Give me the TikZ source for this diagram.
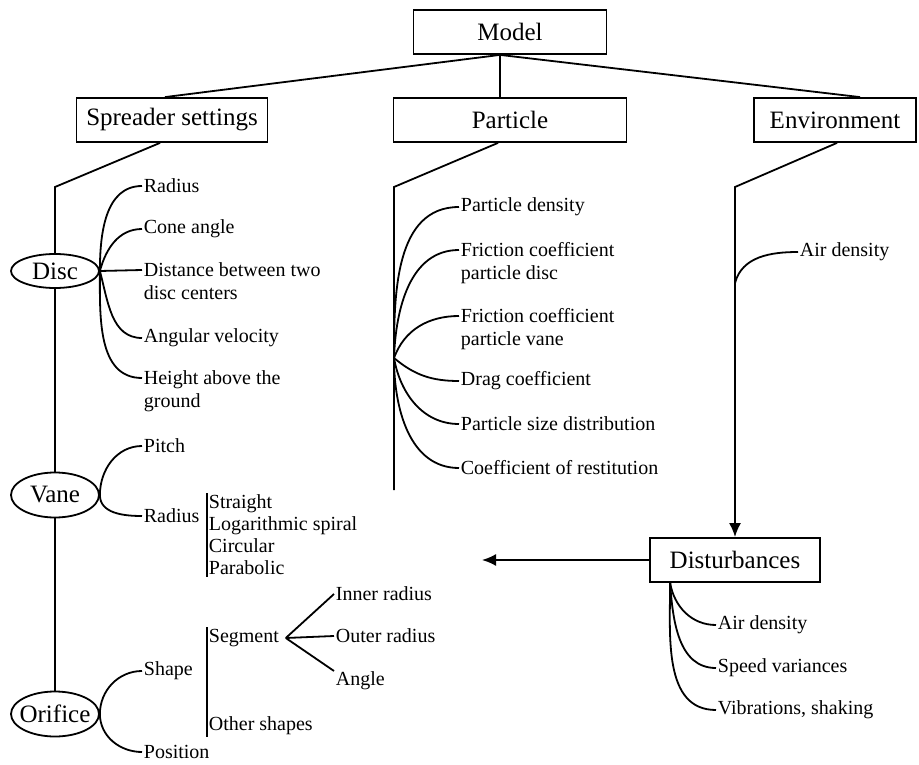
\documentclass[tikz,border=0pt]{standalone}
\usepackage{fontspec}
\setmainfont{Liberation Serif}
\usetikzlibrary{arrows.meta,shapes.geometric,positioning}

\begin{document}
\begin{tikzpicture}[x=1pt,y=1pt,line width=1.8pt,>={Latex[length=14pt,width=12pt]},
        box/.style={draw,rectangle,minimum height=44pt,font=\fontsize{25}{30}\selectfont},
        part/.style={draw,ellipse,inner xsep=-8pt,inner ysep=0pt,minimum width=88pt,
          minimum height=45pt,font=\fontsize{25}{30}\selectfont},
        item/.style={anchor=west,inner sep=1pt,font=\fontsize{20}{23}\selectfont},
        item2/.style={item,anchor=north west,align=left},
        list/.style={item,align=left,font=\fontsize{20}{22}\selectfont}]
  \useasboundingbox (0,0) rectangle (919,-765);

  \node[box,minimum width=193pt] (model) at (510,-32) {Model};
  \node[box,minimum width=191pt] (spread) at (172,-120) {Spreader settings};
  \node[box,minimum width=233pt] (particle) at (510,-120) {Particle};
  \node[box,minimum width=162pt] (env) at (835,-120) {Environment};
  \node[box,minimum width=170pt] (dist) at (735,-560) {Disturbances};

  \path ([xshift=-10pt]model.south) edge ([xshift=-7pt]spread.north)
        ([xshift=-10pt]model.south) edge ([xshift=-10pt]particle.north)
        ([xshift=-10pt]model.south) edge ([xshift=25pt]env.north);

  \node[part,minimum height=34pt] (disc) at (55,-271) {Disc};
  \node[part] (vane) at (55,-495) {Vane};
  \node[part] (orifice) at (55,-714) {Orifice};

  \coordinate (sbend) at (55,-187);
  \draw ([xshift=-12pt]spread.south) -- (sbend) -- (disc.north);
  \draw (disc.south) -- (vane.north) (vane.south) -- (orifice.north);

  \node[item] (radius) at (142,-186) {Radius};
  \node[item] (cone) at (142,-229) {Cone angle};
  \node[item2] (centers) at (142,-261) {Distance between two\\disc centers};
  \node[item] (angvel) at (142,-338) {Angular velocity};
  \node[item2] (height) at (142,-369) {Height above the\\ground};

  \path (disc.east) edge[out=90,in=180] (radius.west)
                    edge[out=75,in=180] (cone.west)
                    edge ([yshift=-9pt]centers.north west)
                    edge[out=-75,in=180] (angvel.west)
                    edge[out=-90,in=180] ([yshift=-9pt]height.north west);

  \node[item] (pitch) at (142,-446) {Pitch};
  \node[item] (vradius) at (142,-516) {Radius};
  \node[list] (rtypes) at (207,-535) {Straight\\Logarithmic spiral\\Circular\\Parabolic};
  \draw (rtypes.north west) -- (rtypes.south west);

  \path (vane.east) edge[out=90,in=180] (pitch.west)
                    edge[out=-90,in=180] (vradius.west);

  \node[item] (shape) at (142,-671) {Shape};
  \node[item] (position) at (142,-752) {Position};
  \node[item] (segment) at (207,-638) {Segment};
  \node[item] (others) at (207,-726) {Other shapes};
  \draw (segment.north west) -- (others.south west);
  \node[item] (inner) at (334,-594) {Inner radius};
  \node[item] (outer) at (334,-636) {Outer radius};
  \node[item] (angle) at (334,-681) {Angle};

  \path (orifice.east) edge[out=90,in=180] (shape.west)
                       edge[out=-90,in=180] (position.west);
  \path ([xshift=5pt]segment.east) edge (inner.west)
                                   edge (outer.west)
                                   edge ([yshift=10pt]angle.west);

  \coordinate (pbend) at (394,-187);
  \coordinate (pend) at (394,-490);
  \coordinate (pfan) at (394,-358);
  \draw ([xshift=-12pt]particle.south) -- (pbend) -- (pend);

  \node[item] (pdens) at (459,-207) {Particle density};
  \node[item2] (pfdisc) at (459,-241) {Friction coefficient\\particle disc};
  \node[item2] (pfvane) at (459,-307) {Friction coefficient\\particle vane};
  \node[item] (pdrag) at (459,-381) {Drag coefficient};
  \node[item] (psize) at (459,-424) {Particle size distribution};
  \node[item] (prest) at (459,-468) {Coefficient of restitution};

  \path (pfan) edge[out=90,in=180] (pdens.west)
               edge[out=88,in=180] ([yshift=-9pt]pfdisc.north west)
               edge[out=70,in=180] ([yshift=-9pt]pfvane.north west)
               edge[out=-40,in=180] (pdrag.west)
               edge[out=-80,in=180] (psize.west)
               edge[out=-90,in=180] (prest.west);

  \coordinate (ebend) at (735,-187);
  \coordinate (efan) at (735,-283);
  \draw[->] ([xshift=2pt]env.south) -- (ebend) -- (dist.north);
  \node[item] (eair) at (798,-252) {Air density};
  \path (efan) edge[out=75,in=180] (eair.west);

  \coordinate (aend) at (482,-560);
  \draw[->] (dist.west) -- (aend);

  \node[item] (dair) at (716,-625) {Air density};
  \node[item] (dspeed) at (716,-668) {Speed variances};
  \node[item] (dvib) at (716,-710) {Vibrations, shaking};
  \path ([xshift=21pt]dist.south west) edge[out=-80,in=180] (dair.west)
                                       edge[out=-86,in=180] (dspeed.west)
                                       edge[out=-90,in=180] (dvib.west);
\end{tikzpicture}
\end{document}
